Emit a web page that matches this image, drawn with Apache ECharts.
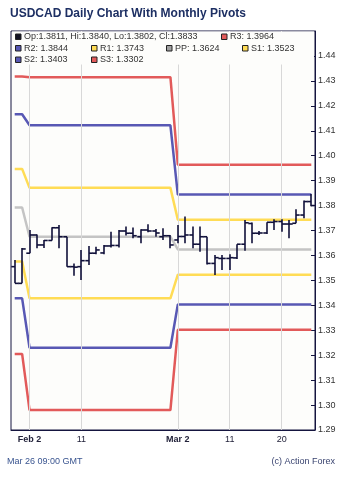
<!DOCTYPE html>
<html><head><meta charset="utf-8">
<script src="https://cdn.jsdelivr.net/npm/echarts@6/dist/echarts.min.js"></script>
<style>html,body{margin:0;padding:0;background:#fff}#c{width:350px;height:481px}</style>
</head><body><div id="c"></div>
<script>
const dates = ['Jan 29','Jan 30',
  'Feb 2','Feb 3','Feb 4','Feb 5','Feb 6','Feb 9','Feb 10','Feb 11','Feb 12','Feb 13',
  'Feb 16','Feb 17','Feb 18','Feb 19','Feb 20','Feb 23','Feb 24','Feb 25','Feb 26','Feb 27',
  'Mar 2','Mar 3','Mar 4','Mar 5','Mar 6','Mar 9','Mar 10','Mar 11','Mar 12','Mar 13',
  'Mar 16','Mar 17','Mar 18','Mar 19','Mar 20','Mar 23','Mar 24','Mar 25','Mar 26'];
const opens  = [1.3555,1.3488,1.3609,1.3682,1.3642,1.3660,1.3711,1.3675,1.3555,1.3555,1.3579,1.3609,1.3610,1.3638,1.3640,1.3698,1.3689,1.3675,1.3702,1.3698,1.3675,1.3679,1.3662,1.3676,1.3682,1.3645,1.3675,1.3568,1.3588,1.3588,1.3590,1.3645,1.3728,1.3689,1.3690,1.3733,1.3736,1.3726,1.3729,1.3762,1.3816];
const highs  = [1.3582,1.3630,1.3702,1.3684,1.3662,1.3713,1.3722,1.3675,1.3568,1.3622,1.3638,1.3635,1.3642,1.3695,1.3702,1.3716,1.3712,1.3705,1.3725,1.3706,1.3709,1.3682,1.3722,1.3756,1.3716,1.3716,1.3675,1.3602,1.3602,1.3605,1.3645,1.3742,1.3732,1.3698,1.3733,1.3745,1.3745,1.3742,1.3785,1.3820,1.3846];
const lows   = [1.3488,1.3488,1.3609,1.3629,1.3630,1.3660,1.3629,1.3555,1.3519,1.3502,1.3562,1.3605,1.3605,1.3632,1.3632,1.3680,1.3669,1.3649,1.3693,1.3675,1.3662,1.3629,1.3649,1.3649,1.3629,1.3615,1.3564,1.3522,1.3542,1.3542,1.3586,1.3619,1.3649,1.3682,1.3686,1.3702,1.3695,1.3669,1.3729,1.3749,1.3797];
const closes = [1.3488,1.3626,1.3682,1.3642,1.3660,1.3711,1.3675,1.3555,1.3553,1.3579,1.3609,1.3622,1.3638,1.3640,1.3698,1.3689,1.3679,1.3702,1.3698,1.3690,1.3679,1.3642,1.3676,1.3682,1.3645,1.3675,1.3568,1.3591,1.3588,1.3591,1.3645,1.3731,1.3689,1.3690,1.3733,1.3736,1.3726,1.3726,1.3762,1.3816,1.3800];

const months = ['Jan','Feb','Mar'];
const r3 = [1.4318, 1.4315, 1.3964];
const r2 = [1.4166, 1.4122, 1.3844];
const r1 = [1.3947, 1.3871, 1.3743];
const pp = [1.3792, 1.3675, 1.3624];
const s1 = [1.3576, 1.3428, 1.3523];
const s2 = [1.3428, 1.3230, 1.3403];
const s3 = [1.3205, 1.2980, 1.3302];

const tickIdx  = [2, 9, 22, 29, 36];
const tickText = ['Feb 2', '11', 'Mar 2', '11', '20'];
const boldTicks = ['Feb 2', 'Mar 2'];

const ohlcText = 'Op:1.3811, Hi:1.3840, Lo:1.3802, Cl:1.3833';

const monthOf = dates.map(d => months.indexOf(d.slice(0,3)));
const levelData = arr => monthOf.map(m => arr[m]);
const ohlc = dates.map((d,i) => [i, opens[i], highs[i], lows[i], closes[i]]);

const RED = '#e25a5a', BLUE = '#5858b4', YEL = '#ffdc55', GREY = '#c4c4c4';
const NAVY = '#15153f';
const FONT = 'Liberation Sans, Arial, sans-serif';

function pivotSeries(name, arr, color) {
  return {name, type:'line', data: levelData(arr), symbol:'none', z: 3,
    lineStyle:{color, width:2.5}, silent:true};
}

function renderOHLC(params, api) {
  const x = api.value(0);
  const o = api.coord([x, api.value(1)]);
  const h = api.coord([x, api.value(2)]);
  const l = api.coord([x, api.value(3)]);
  const c = api.coord([x, api.value(4)]);
  const w = api.size([1, 0])[0] * 0.5;
  const cx = Math.round(o[0]);
  const style = {stroke: '#10103a', lineWidth: 1.6, fill: null};
  return {type:'group', children:[
    {type:'line', shape:{x1:cx, y1:h[1], x2:cx, y2:l[1]}, style},
    {type:'line', shape:{x1:cx-w, y1:o[1], x2:cx, y2:o[1]}, style},
    {type:'line', shape:{x1:cx, y1:c[1], x2:cx+w, y2:c[1]}, style}
  ]};
}

const legendItems = [
  {x:15, y:37, color:'#111122', text: ohlcText},
  {x:221, y:37, color:RED, text:'R3: ' + r3[2].toFixed(4)},
  {x:15, y:48.5, color:BLUE, text:'R2: ' + r2[2].toFixed(4)},
  {x:91, y:48.5, color:YEL, text:'R1: ' + r1[2].toFixed(4)},
  {x:166, y:48.5, color:'#a0a0a0', text:'PP: ' + pp[2].toFixed(4)},
  {x:242, y:48.5, color:YEL, text:'S1: ' + s1[2].toFixed(4)},
  {x:15, y:60, color:BLUE, text:'S2: ' + s2[2].toFixed(4)},
  {x:91, y:60, color:RED, text:'S3: ' + s3[2].toFixed(4)}
];
const graphics = [
  {type:'rect', z:100, shape:{x:12, y:31.5, width:302, height:33}, style:{fill:'#fdfdfb'}},
  {type:'text', z:101, left:10, top:8, style:{text:'USDCAD Daily Chart With Monthly Pivots', font:'bold 12px ' + FONT, fill:'#1d2f63'}},
  {type:'text', z:101, left:7, top:457, style:{text:'Mar 26 09:00 GMT', font:'9px ' + FONT, fill:'#3a5590'}},
  {type:'text', z:101, right:15, top:457, style:{text:'(c) Action Forex', font:'9px ' + FONT, fill:'#3a4470'}}
];
legendItems.forEach(it => {
  graphics.push({type:'rect', z:101, shape:{x:it.x+0.5, y:it.y-3, width:5.5, height:5.5}, style:{fill:it.color, stroke:'#222', lineWidth:1}});
  graphics.push({type:'text', z:101, x:it.x+9, y:it.y, style:{text:it.text, font:'9px ' + FONT, fill:'#333', textVerticalAlign:'middle'}});
});

const chart = echarts.init(document.getElementById('c'));
chart.setOption({
  animation:false,
  backgroundColor:'#ffffff',
  textStyle:{fontFamily: FONT},
  grid:{left:11, right:35, top:31, bottom:51, show:true, backgroundColor:'#fdfdfb', borderColor:NAVY, borderWidth:1},
  xAxis:{type:'category', data:dates, boundaryGap:true,
    axisLine:{lineStyle:{color:NAVY, width:1}}, axisTick:{show:false}, splitLine:{show:false},
    axisLabel:{interval:(i) => tickIdx.includes(i), fontSize:9, color:'#22223a', margin:5,
      formatter:(v, i) => { const k = tickIdx.indexOf(i); if (k < 0) return ''; const t = tickText[k]; return boldTicks.includes(t) ? '{b|' + t + '}' : t; },
      rich:{b:{fontWeight:'bold', fontSize:9, color:'#22223a'}}}},
  yAxis:{type:'value', position:'right', min:1.29, max:1.45, interval:0.01, scale:true,
    axisLine:{show:true, lineStyle:{color:NAVY, width:1}},
    axisTick:{show:true, inside:true, length:4, lineStyle:{color:NAVY}},
    splitLine:{show:false},
    axisLabel:{fontSize:9, color:'#333', margin:3, showMaxLabel:false, formatter:v => v.toFixed(2)}},
  graphic: graphics,
  series:[
    {type:'line', data:dates.map(() => null), symbol:'none', z:1, silent:true,
      markLine:{silent:true, symbol:'none', label:{show:false}, lineStyle:{color:'#d8d8d8', width:1, type:'solid'},
        data: tickIdx.map(i => ({xAxis: i}))}},
    pivotSeries('R3', r3, RED),
    pivotSeries('R2', r2, BLUE),
    pivotSeries('R1', r1, YEL),
    pivotSeries('PP', pp, GREY),
    pivotSeries('S1', s1, YEL),
    pivotSeries('S2', s2, BLUE),
    pivotSeries('S3', s3, RED),
    {type:'custom', data:ohlc, renderItem:renderOHLC, encode:{x:0, y:[1,2,3,4]}, z:5, silent:true}
  ]
});
</script></body></html>
